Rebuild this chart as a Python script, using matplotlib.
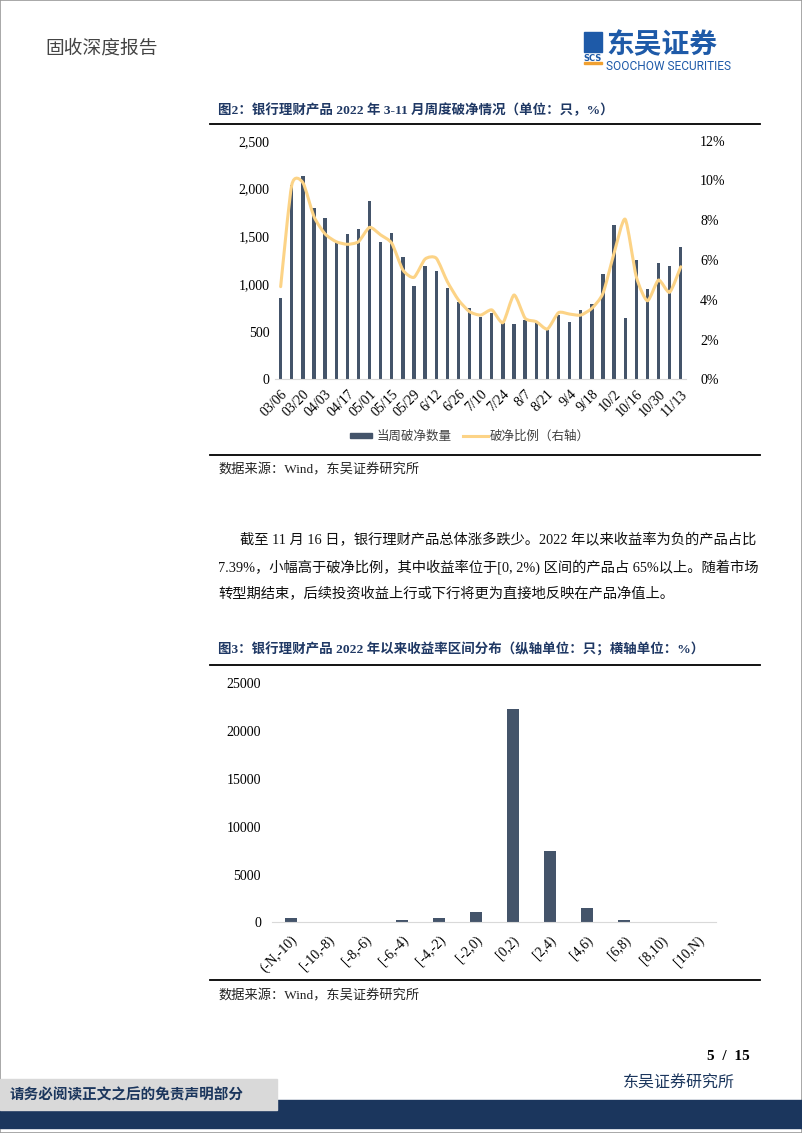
import matplotlib
matplotlib.use("Agg")
import matplotlib.pyplot as plt
import numpy as np
from matplotlib.path import Path
from matplotlib.patches import PathPatch, Rectangle
from matplotlib.lines import Line2D

plt.rcParams['font.family'] = ['Liberation Serif', 'Noto Sans CJK SC']
plt.rcParams['font.size'] = 10

# ---- data: figure 2 (weekly) ----
weeks = ['03/06', '03/13', '03/20', '03/27', '04/03', '04/10', '04/17', '04/24',
         '05/01', '05/08', '05/15', '05/22', '05/29', '6/5', '6/12', '6/19', '6/26',
         '7/3', '7/10', '7/17', '7/24', '7/31', '8/7', '8/14', '8/21', '8/28', '9/4',
         '9/11', '9/18', '9/25', '10/2', '10/9', '10/16', '10/23', '10/30', '11/6', '11/13']
broken_count = [850, 2035, 2130, 1800, 1690, 1440, 1525, 1575, 1865, 1440, 1535, 1280,
                980, 1190, 1135, 955, 810, 745, 650, 698, 587, 580, 621, 611, 517, 674,
                600, 726, 792, 1104, 1617, 642, 1247, 950, 1222, 1187, 1390]
broken_ratio = [4.66, 9.77, 9.89, 8.18, 7.31, 6.92, 6.79, 6.92, 7.64, 7.26, 6.84, 5.50,
                5.13, 6.05, 6.09, 4.91, 3.99, 3.40, 3.23, 3.49, 2.85, 4.24, 3.07, 2.90,
                2.53, 3.35, 3.28, 3.23, 3.57, 4.32, 6.34, 8.05, 5.16, 3.95, 4.99, 4.38, 5.66]

# ---- data: figure 3 (return buckets) ----
buckets = ['(-N,-10)', '[-10,-8)', '[-8,-6)', '[-6,-4)', '[-4,-2)', '[-2,0)',
           '[0,2)', '[2,4)', '[4,6)', '[6,8)', '[8,10)', '[10,N)']
bucket_count = [420, 10, 10, 240, 420, 1110, 22340, 7490, 1460, 200, 20, 30]

W, H = 802, 1133
fig = plt.figure(figsize=(W / 100, H / 100), dpi=100)

def box(x0, y0, x1, y1):
    # pixel box (top-left origin) -> figure fraction rect
    return [x0 / W, 1 - y1 / H, (x1 - x0) / W, (y1 - y0) / H]

def px(x, y):
    return x / W, 1 - y / H

bar_col = '#44546A'
line_col = '#FCD386'
navy = '#1B365D'
title_col = '#1F3864'
cjk = ['Noto Sans CJK SC']

# ---------- page decoration ----------
fig.add_artist(Rectangle((0, 0), 1, 1, transform=fig.transFigure, fill=False,
                         edgecolor='#999999', lw=1.2))
fig.text(*px(45, 48), '固收深度报告', fontsize=13.5, color='#444444', va='center',
         family=cjk)
# logo
fig.add_artist(Rectangle(px(584, 52), 18 / W, 20 / H, transform=fig.transFigure,
                         color='#1E5AA8'))
fig.text(*px(593, 58.5), 'SCS', fontsize=6, color='#1E5AA8', ha='center', va='center',
         weight='bold', family=['DejaVu Sans'])
fig.add_artist(Rectangle(px(584, 64), 18 / W, 2 / H, transform=fig.transFigure,
                         color='#F0A030'))
fig.text(*px(606, 53), '东吴证券', fontsize=20, color='#1E5AA8', va='baseline',
         weight='bold', family=cjk)
fig.text(*px(606, 60), 'SOOCHOW SECURITIES', fontsize=8.6, color='#1E5AA8', va='top',
         family=['Roboto'])

def rule(y, x0=210, x1=760, lw=1.3):
    fig.add_artist(Line2D([x0 / W, x1 / W], [1 - y / H, 1 - y / H],
                          transform=fig.transFigure, color='black', lw=lw))

fig.text(*px(218, 110), '图2：银行理财产品 2022 年 3-11 月周度破净情况（单位：只，%）',
         fontsize=9.7, weight='bold', color=title_col, va='center')
rule(124)

# ---------- chart 1 ----------
ax = fig.add_axes(box(275.1, 140.7, 686.3, 379.3))
x = np.arange(len(weeks))
ax.bar(x, broken_count, width=0.3, color=bar_col, zorder=2)
ax.set_xlim(-0.5, len(weeks) - 0.5)
ax.set_ylim(0, 2500)
ax.set_yticks(np.arange(0, 2501, 500))
ax.set_yticklabels([f'{v:,}' for v in range(0, 2501, 500)])
ax.set_xticks(x[::2])
ax.set_xticklabels(weeks[::2], rotation=45, ha='right', rotation_mode='anchor')
for s in ['top', 'right', 'left']:
    ax.spines[s].set_visible(False)
ax.spines['bottom'].set_color('#D9D9D9')
ax.tick_params(length=0, labelsize=10, pad=4)
ax.tick_params(axis='x', pad=6)

ax2 = ax.twinx()
ax2.set_ylim(0, 12)
ax2.set_yticks(np.arange(0, 13, 2))
ax2.set_yticklabels([f'{v}%' for v in range(0, 13, 2)])
for s in ax2.spines.values():
    s.set_visible(False)
ax2.tick_params(length=0, labelsize=10, pad=10)

# smoothed line through the ratio values (bezier, mild tension)
pts = np.column_stack([x, broken_ratio]).astype(float)
verts = [tuple(pts[0])]
codes = [Path.MOVETO]
n = len(pts)
for i in range(n - 1):
    p0 = pts[max(i - 1, 0)]
    p1 = pts[i]
    p2 = pts[i + 1]
    p3 = pts[min(i + 2, n - 1)]
    c1 = p1 + (p2 - p0) / 9
    c2 = p2 - (p3 - p1) / 9
    verts += [tuple(c1), tuple(c2), tuple(p2)]
    codes += [Path.CURVE4] * 3
ax2.add_patch(PathPatch(Path(verts, codes), fill=False, edgecolor=line_col, lw=2.2,
                        capstyle='round', joinstyle='round', zorder=3))

# legend
fig.add_artist(Rectangle(px(350, 438), 22 / W, 5 / H, transform=fig.transFigure,
                         color=bar_col))
fig.text(*px(377, 436), '当周破净数量', fontsize=9, va='center', color='#404040',
         family=cjk)
fig.add_artist(Line2D([463 / W, 488 / W], [1 - 436 / H] * 2, transform=fig.transFigure,
                      color=line_col, lw=2.2))
fig.text(*px(490, 436), '破净比例（右轴）', fontsize=9, va='center', color='#404040',
         family=cjk)

rule(455)
fig.text(*px(218, 470), '数据来源：Wind，东吴证券研究所', fontsize=9.5, va='center',
         color='#222222')

# ---------- paragraph ----------
para = ['截至 11 月 16 日，银行理财产品总体涨多跌少。2022 年以来收益率为负的产品占比',
        '7.39%，小幅高于破净比例，其中收益率位于[0, 2%) 区间的产品占 65%以上。随着市场',
        '转型期结束，后续投资收益上行或下行将更为直接地反映在产品净值上。']
fig.text(*px(240, 540), para[0], fontsize=10.3, va='center', color='#111111')
fig.text(*px(218, 567), para[1], fontsize=10.3, va='center', color='#111111')
fig.text(*px(218, 594), para[2], fontsize=10.3, va='center', color='#111111')

fig.text(*px(218, 650), '图3：银行理财产品 2022 年以来收益率区间分布（纵轴单位：只；横轴单位：%）',
         fontsize=9.7, weight='bold', color=title_col, va='center')
rule(665)

# ---------- chart 2 ----------
bx = fig.add_axes(box(272.2, 683.3, 716.2, 922.3))
xb = np.arange(len(buckets))
bx.bar(xb, bucket_count, width=0.32, color=bar_col, zorder=2)
bx.set_xlim(-0.5, len(buckets) - 0.5)
bx.set_ylim(0, 25000)
bx.set_yticks(np.arange(0, 25001, 5000))
bx.set_xticks(xb)
bx.set_xticklabels(buckets, rotation=45, ha='right', rotation_mode='anchor')
for s in ['top', 'right', 'left']:
    bx.spines[s].set_visible(False)
bx.spines['bottom'].set_color('#D9D9D9')
bx.tick_params(length=0, labelsize=10, pad=8)
bx.tick_params(axis='x', pad=8)

rule(980)
fig.text(*px(218, 996), '数据来源：Wind，东吴证券研究所', fontsize=9.5, va='center',
         color='#222222')

# ---------- footer ----------
fig.text(*px(750, 1057), '5  /  15', fontsize=11, weight='bold', ha='right', va='center')
fig.text(*px(735, 1084), '东吴证券研究所', fontsize=11.5, ha='right', va='center',
         color=navy)
fig.add_artist(Rectangle(px(0, 1128), 1, 28 / H, transform=fig.transFigure, color=navy))
fig.add_artist(Rectangle(px(0, 1110), 277 / W, 31 / H, transform=fig.transFigure,
                         color='#D9D9D9'))
fig.text(*px(10, 1095), '请务必阅读正文之后的免责声明部分', fontsize=10.5, va='center',
         color=navy, weight='bold')

fig.savefig('out.png', dpi=100)
